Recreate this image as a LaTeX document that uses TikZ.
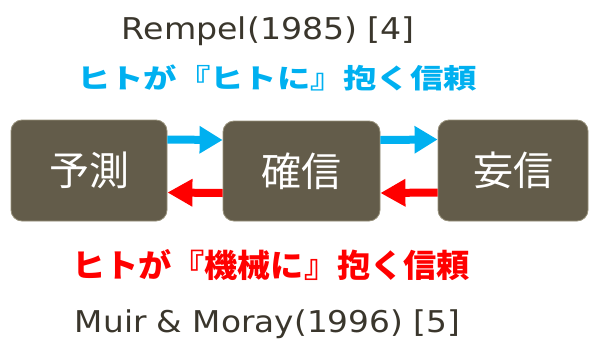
\documentclass[tikz,border=0pt]{standalone}
\usepackage{fontspec}
\usepackage{graphicx}
\setmainfont{DejaVu Sans}
\newfontfamily\jp{Noto Sans CJK JP}
\usetikzlibrary{arrows.meta}
\definecolor{boxfill}{RGB}{99,92,74}
\definecolor{boxline}{RGB}{150,144,122}
\definecolor{txtgray}{RGB}{58,54,44}
\definecolor{hblue}{RGB}{0,176,240}
\definecolor{hred}{RGB}{255,0,0}
\tikzset{
  stagebox/.style={draw=boxline, line width=0.8pt, fill=boxfill, rounded corners=11pt,
    text=white, font=\jp\fontsize{40}{44}\selectfont, inner sep=0pt},
  blueconn/.style={draw=hblue, line width=8pt, -{Triangle[length=23pt,width=26pt]}},
  redconn/.style={draw=hred, line width=8pt, -{Triangle[length=25pt,width=26pt]}},
  ref/.style={text=txtgray, font=\fontsize{30}{34}\selectfont, inner sep=0pt, anchor=base},
  headline/.style={inner sep=0pt, anchor=center}
}
\begin{document}
\begin{tikzpicture}[x=1pt,y=-1pt]
\useasboundingbox (0,0) rectangle (589,338);
% boxes
\node[stagebox, minimum width=156pt, minimum height=101pt] (yosoku) at (89,170.5) {予測};
\node[stagebox, minimum width=157pt, minimum height=100pt] (kakushin) at (301.5,171) {確信};
\node[stagebox, minimum width=150pt, minimum height=101pt] (moushin) at (513,170.5) {妄信};
% arrows
\draw[blueconn] ([yshift=31pt]yosoku.east) -- ([yshift=31pt]kakushin.west);
\draw[blueconn] ([yshift=31pt]kakushin.east) -- ([yshift=31pt]moushin.west);
\draw[redconn] ([yshift=-22pt]kakushin.west) -- ([yshift=-22pt]yosoku.east);
\draw[redconn] ([yshift=-22pt]moushin.west) -- ([yshift=-22pt]kakushin.east);
% texts
\node[ref] (rempel) at (268.5,39) {\resizebox{293pt}{\height}{Rempel(1985) [4]}};
\node[ref] (muir) at (267.5,332) {\resizebox{385pt}{\height}{Muir \& Moray(1996) [5]}};
\node[headline, text=hblue, font=\jp\bfseries\fontsize{27}{30}\selectfont] (hito) at (277,77.5)
  {\resizebox{400pt}{\height}{ヒトが『ヒトに』抱く信頼}};
\node[headline, text=hred, font=\jp\bfseries\fontsize{32}{35}\selectfont] (kikai) at (271,265.5)
  {\resizebox{398pt}{\height}{ヒトが『機械に』抱く信頼}};
\end{tikzpicture}
\end{document}
